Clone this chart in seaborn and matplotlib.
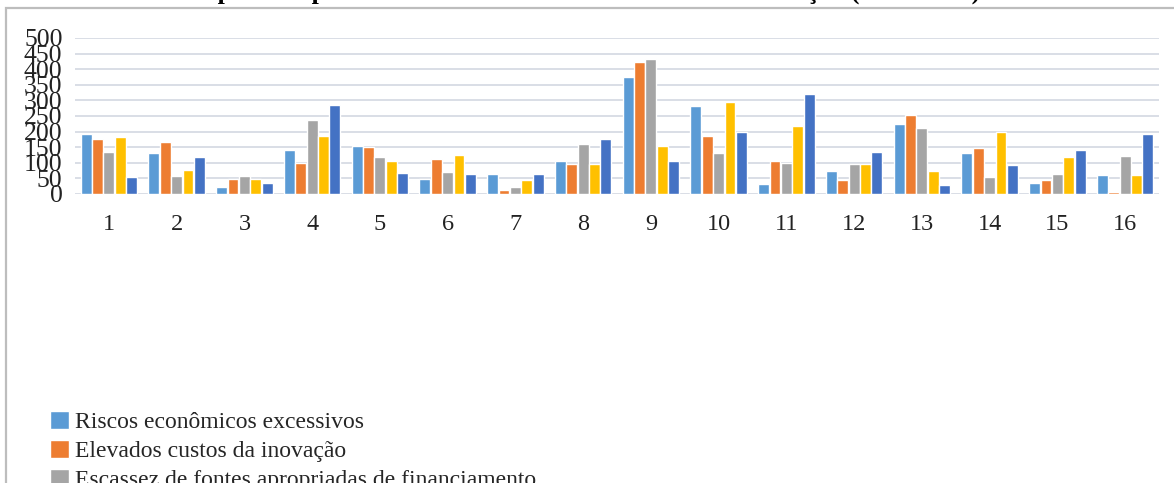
import matplotlib
matplotlib.use("Agg")
import matplotlib.pyplot as plt
import seaborn as sns
import pandas as pd
from matplotlib.patches import Rectangle

# ---- data ----
categories = [str(i) for i in range(1, 17)]
series_names = [
    "Riscos econômicos excessivos",
    "Elevados custos da inovação",
    "Escassez de fontes apropriadas de financiamento",
    "Falta de pessoal qualificado",
    "Falta de informação sobre tecnologia",
]
riscos = [193, 131, 22, 142, 155, 48, 65, 105, 375, 281, 32, 73, 224, 131, 36, 61]
custos = [176, 167, 49, 99, 150, 113, 12, 96, 424, 187, 105, 44, 254, 149, 46, 6]
escassez = [136, 58, 59, 238, 118, 72, 22, 159, 433, 130, 99, 97, 212, 54, 65, 121]
pessoal = [183, 77, 48, 185, 106, 124, 46, 97, 153, 296, 217, 96, 74, 199, 120, 61]
informacao = [54, 118, 34, 284, 67, 63, 65, 176, 105, 200, 322, 134, 29, 92, 142, 192]
yticks = [0, 50, 100, 150, 200, 250, 300, 350, 400, 450, 500]
title_text = "Empresas e problemas relatados como obstáculos à inovação (2012-2014)"

colors = ["#5B9BD5", "#ED7D31", "#A5A5A5", "#FFC000", "#4472C4"]

rows = []
for name, vals in zip(series_names, [riscos, custos, escassez, pessoal, informacao]):
    for c, v in zip(categories, vals):
        rows.append({"cat": c, "serie": name, "valor": v})
df = pd.DataFrame(rows)

sns.set_theme(style="white")
plt.rcParams["font.family"] = ["Liberation Serif", "DejaVu Serif"]

W, H = 1174, 483
fig = plt.figure(figsize=(W / 100, H / 100), dpi=100)
fig.patch.set_facecolor("white")

left, right, top, bottom = 75, 1159, 38, 194
ax = fig.add_axes([left / W, 1 - bottom / H, (right - left) / W, (bottom - top) / H])

sns.barplot(data=df, x="cat", y="valor", hue="serie", order=categories,
            hue_order=series_names, palette=colors, width=0.84, gap=0.05,
            saturation=1, ax=ax, errorbar=None)

ax.set_xlim(-0.5, 15.5)
ax.set_ylim(0, 500)
ax.set_yticks(yticks)
ax.set_yticklabels([str(t) for t in yticks])
ax.set_xlabel("")
ax.set_ylabel("")
for s in ax.spines.values():
    s.set_visible(False)
ax.grid(axis="y", color="#D9DEE6", linewidth=1.4)
ax.set_axisbelow(True)
ax.tick_params(axis="both", length=0, colors="#222222")
ax.tick_params(axis="y", pad=9, labelsize=18.5)
ax.tick_params(axis="x", pad=14.5, labelsize=17.5)

sns.move_legend(ax, loc="upper left", bbox_to_anchor=(50 / W, 1 - 411 / H),
                bbox_transform=fig.transFigure, frameon=False, title=None,
                fontsize=17, handlelength=0.8, handleheight=0.8,
                handletextpad=0.25, labelspacing=0.28, borderpad=0, borderaxespad=0)

# frame of the chart area
fig.add_artist(Rectangle((6 / W, -0.2), 1.2, 1.2 - 8 / H, transform=fig.transFigure,
                         fill=False, edgecolor="#BDBDBD", linewidth=1.6))

# title, cut off at the top of the picture
fig.text(580 / W, 1 + 1.5 / H, title_text, ha="center", va="baseline",
         fontsize=18.5, fontweight="bold", color="black")

fig.savefig("out.png", dpi=100)
